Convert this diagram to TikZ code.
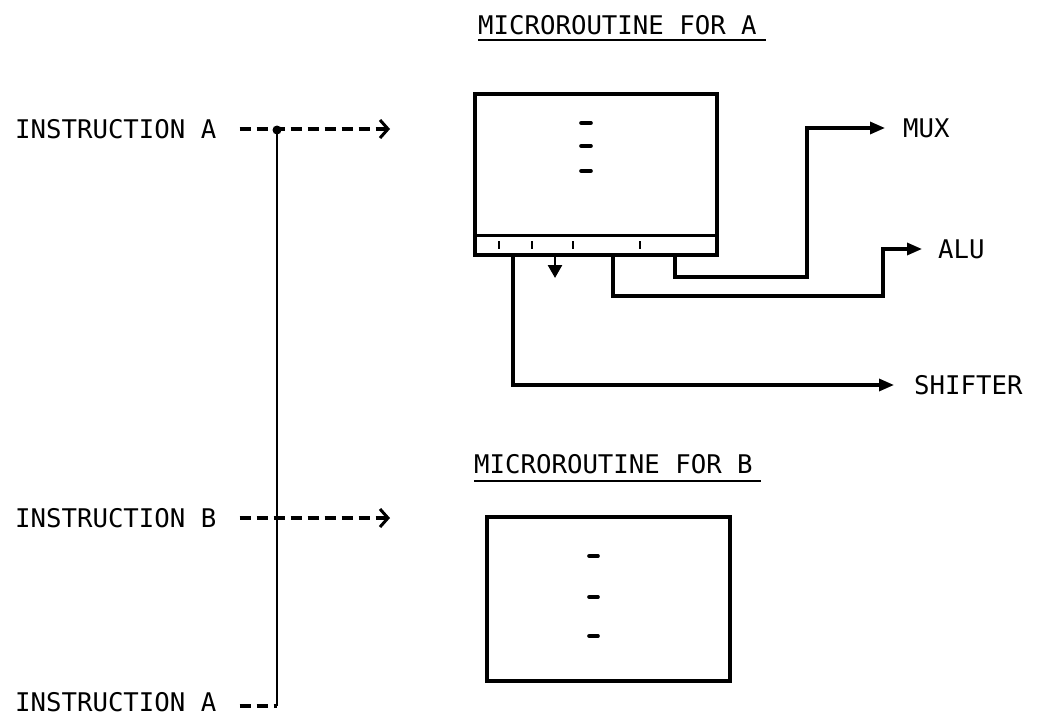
\documentclass[tikz,border=0pt]{standalone}
\usepackage{fontspec}
\setmonofont{DejaVu Sans Mono}
\usetikzlibrary{arrows.meta}
\begin{document}
\begin{tikzpicture}[x=1pt,y=-1pt,
  lbl/.style={font=\ttfamily\fontsize{25.7}{30}\selectfont, inner sep=0pt},
  wire/.style={line width=3.2pt, line join=miter},
  boxst/.style={draw, line width=3.3pt, inner sep=0pt},
  dsh/.style={line width=3.4pt, dash pattern=on 11pt off 6pt},
  vline/.style={line width=2.6pt},
  tip/.style={-{Triangle[length=15pt,width=12pt]}},
  barb/.style={-{Straight Barb[length=8pt,width=18pt,line width=3pt]}},
  ulin/.style={line width=2pt},
  dashmark/.style={line width=3.6pt, line cap=round},
  fieldtick/.style={line width=2.6pt}
]
\useasboundingbox (0,0) rectangle (1041,725);

% titles
\node[lbl, anchor=base west] (ta) at (478,35) {MICROROUTINE FOR A};
\draw[ulin] ([yshift=-5pt]ta.base west) -- ([xshift=9pt,yshift=-5pt]ta.base east);
\node[lbl, anchor=base west] (tb) at (474,473) {MICROROUTINE FOR B};
\draw[ulin] ([yshift=-8pt]tb.base west) -- ([xshift=8pt,yshift=-8pt]tb.base east);

% instruction labels
\node[lbl, anchor=west] (ia) at (15,129) {INSTRUCTION A};
\node[lbl, anchor=west] (ib) at (15,518) {INSTRUCTION B};
\node[lbl, anchor=west] (ic) at (15,702) {INSTRUCTION A};

% box A with field strip
\node[boxst, minimum width=242pt, minimum height=161pt] (boxA) at (596,174.5) {};
\draw[boxst] ([yshift=21pt]boxA.south west) -- ([yshift=21pt]boxA.south east);
\foreach \x in {499,532,573,640}
  \draw[fieldtick] (\x,241) -- (\x,249);
\foreach \y in {123,146,171}
  \draw[dashmark] (581,\y) -- (591,\y);
\draw[line width=2.6pt, -{Triangle[length=13pt,width=14pt]}] (555,257) -- (555,278);

% box B
\node[boxst, minimum width=243pt, minimum height=164pt] (boxB) at (608.5,599) {};
\foreach \y in {556,597,636}
  \draw[dashmark] (589,\y) -- (598,\y);

% targets
\node[lbl, anchor=west] (mux) at (903,128) {MUX};
\node[lbl, anchor=west] (alu) at (938,249) {ALU};
\node[lbl, anchor=west] (shf) at (914,385) {SHIFTER};

% connectors from the field strip
\draw[wire, tip] (boxA.south -| 675,0) |- (807,277) |- ([xshift=-18pt]mux.west);
\draw[wire, tip] (boxA.south -| 613,0) |- (883,296) |- ([xshift=-16pt]alu.west);
\draw[wire, tip] (boxA.south -| 513,0) |- ([xshift=-20pt]shf.west);

% instruction bus
\coordinate (ea) at (390,129);
\coordinate (eb) at (390,518);
\coordinate (top) at (277,130);
\coordinate (bot) at (277,706);
\draw[dsh, barb] ([xshift=23pt]ia.east) -- (ea);
\draw[dsh, barb] ([xshift=23pt]ib.east) -- (eb);
\draw[vline] (top) -- (bot);
\draw[dsh] ([xshift=23pt]ic.east |- bot) -- (bot);
\fill (top) circle (4.5pt);
\end{tikzpicture}
\end{document}
